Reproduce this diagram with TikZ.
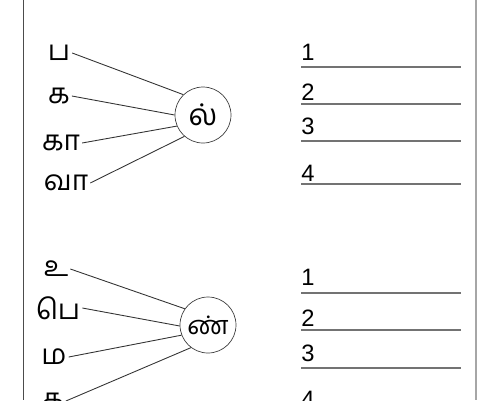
\documentclass[tikz,border=0pt]{standalone}
\usepackage{fontspec}
\setmainfont{Liberation Sans}
\newfontfamily\tamil[Script=Tamil]{Hind Madurai}

\begin{document}
\begin{tikzpicture}[
                x=0.02cm, y=-0.02cm,
                letter/.style={font=\tamil\fontsize{16}{16}\selectfont, inner sep=1pt},
                hub/.style={circle, draw=black!75, fill=white, minimum size=1.12cm, inner sep=0pt, font=\tamil\fontsize{17}{17}\selectfont},
                link/.style={draw=black!80, line width=0.5pt},
                blank/.style={draw=black!55, line width=0.75pt},
                num/.style={anchor=base west, inner sep=0pt, font=\fontsize{13.5}{13.5}\selectfont}
            ]
            \useasboundingbox (0,0) rectangle (500,400);
            \clip (0,0) rectangle (500,400);

            % page frame
            \draw[black!70, line width=0.5pt] (23,0) -- (23,400);
            \draw[black!35, line width=1.2pt] (476,0) -- (476,400);

            % First group
            \node[hub] (l1) at (203,115) {ல்};
            \node[letter] (pa1) at (59,53) {ப};
            \node[letter] (ka1) at (59,96) {க};
            \node[letter] (kaa1) at (61,143) {கா};
            \node[letter] (vaa1) at (66,183) {வா};
            \draw[link] (pa1.east) -- (l1.134);
            \draw[link] (ka1.east) -- (l1.180);
            \draw[link] (kaa1.east) -- (l1.203);
            \draw[link] (vaa1.east) -- (l1.229);

            \foreach \ny/\ly [count=\i] in {60/67, 100/104, 134/141, 181/184} {
                \node[num] (ans1\i) at (301,\ny) {\i};
                \draw[blank] (301,\ly) -- (461,\ly);
            }

            % Second group
            \node[hub, font=\tamil\fontsize{14.5}{14.5}\selectfont] (n2) at (208,325) {ண்};
            \node[letter] (u2) at (56,269) {உ};
            \node[letter] (pe2) at (58,308) {பெ};
            \node[letter] (ma2) at (54,357) {ம};
            \node[letter] (ka2) at (53,401) {க};
            \draw[link] (u2.east) -- (n2.145);
            \draw[link] (pe2.east) -- (n2.182);
            \draw[link] (ma2.east) -- (n2.201);
            \draw[link] (ka2.east) -- (n2.233);

            \foreach \ny/\ly [count=\i] in {285/293, 326/330, 361/368, 407/410} {
                \node[num] (ans2\i) at (301,\ny) {\i};
                \draw[blank] (301,\ly) -- (461,\ly);
            }
            \end{tikzpicture}
\end{document}
